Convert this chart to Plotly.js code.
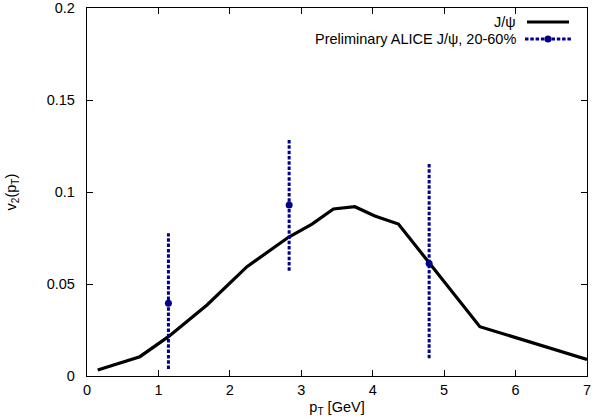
<!DOCTYPE html>
<html>
<head>
<meta charset="utf-8">
<script src="https://cdn.plot.ly/plotly-3.0.1.min.js"></script>
<style>html,body{margin:0;padding:0;background:#fff;}#chart{width:593px;height:420px;}</style>
</head>
<body>
<div id="chart"></div>
<script>
// Model curve J/psi
var curveX = [0.15, 0.74, 1.14, 1.68, 2.24, 2.82, 3.15, 3.45, 3.75, 4.03, 4.36, 4.80, 5.50, 7.0];
var curveY = [0.0033, 0.0105, 0.0214, 0.0386, 0.0594, 0.0754, 0.0826, 0.0908, 0.0920, 0.0870, 0.0826, 0.0612, 0.0268, 0.0090];
// Preliminary ALICE J/psi, 20-60%
var dataX = [1.14, 2.83, 4.79];
var dataY = [0.0395, 0.0929, 0.0612];
var dataLo = [0.0038, 0.0572, 0.0096];
var dataHi = [0.0776, 0.1290, 0.1160];
var xTicks = [0, 1, 2, 3, 4, 5, 6, 7];
var yTicks = [0, 0.05, 0.1, 0.15, 0.2];
var yTickText = ['0', '0.05', '0.1', '0.15', '0.2'];
var legendNames = ['J/\u03c8', 'Preliminary ALICE J/\u03c8, 20-60%'];

var blue = '#00008b';
var traces = [];
traces.push({x: curveX, y: curveY, mode: 'lines', line: {color: '#000', width: 3.2}, showlegend: false, hoverinfo: 'skip'});
for (var i = 0; i < dataX.length; i++) {
  traces.push({x: [dataX[i], dataX[i]], y: [dataLo[i], dataHi[i]], mode: 'lines',
    line: {color: blue, width: 3, dash: '3.5px,1.8px'}, showlegend: false, hoverinfo: 'skip'});
}
traces.push({x: dataX, y: dataY, mode: 'markers', marker: {color: blue, size: 7, symbol: 'circle'}, showlegend: false});

var font = {family: 'Liberation Sans, Arial, sans-serif', size: 14.5, color: '#000'};
var layout = {
  width: 593, height: 420,
  margin: {l: 87, r: 6, t: 8, b: 44},
  paper_bgcolor: '#fff', plot_bgcolor: '#fff',
  font: font,
  showlegend: false,
  xaxis: {range: [0, 7], tickvals: xTicks, ticks: 'inside', ticklen: 6, tickcolor: '#000',
    showline: true, linecolor: '#000', linewidth: 1.2, mirror: 'ticks', showgrid: false, zeroline: false,
    title: {text: 'p<sub>T</sub> [GeV]', font: font, standoff: 5}, tickfont: font},
  yaxis: {range: [0, 0.2], tickvals: yTicks, ticktext: yTickText, ticks: 'inside', ticklen: 6, tickcolor: '#000',
    showline: true, linecolor: '#000', linewidth: 1.2, mirror: 'ticks', showgrid: false, zeroline: false,
    title: {text: 'v<sub>2</sub>(p<sub>T</sub>)', font: font, standoff: 26}, tickfont: font, ticklabelstandoff: 8},
  annotations: [
    {xref: 'paper', yref: 'paper', x: 0.862, y: 0.962, xanchor: 'right', yanchor: 'middle', text: legendNames[0], showarrow: false, font: font},
    {xref: 'paper', yref: 'paper', x: 0.862, y: 0.916, xanchor: 'right', yanchor: 'middle', text: legendNames[1], showarrow: false, font: font}
  ],
  shapes: [
    {type: 'line', xref: 'paper', yref: 'paper', x0: 0.88, x1: 0.964, y0: 0.962, y1: 0.962, line: {color: '#000', width: 3.2}},
    {type: 'line', xref: 'paper', yref: 'paper', x0: 0.876, x1: 0.968, y0: 0.916, y1: 0.916, line: {color: blue, width: 3, dash: '3.5px,1.8px'}},
    {type: 'circle', xref: 'paper', yref: 'paper', xsizemode: 'pixel', ysizemode: 'pixel', xanchor: 0.922, yanchor: 0.916,
      x0: -3.5, x1: 3.5, y0: -3.5, y1: 3.5, fillcolor: blue, line: {color: blue, width: 0}}
  ]
};
Plotly.newPlot('chart', traces, layout, {displayModeBar: false, staticPlot: true});
</script>
</body>
</html>
